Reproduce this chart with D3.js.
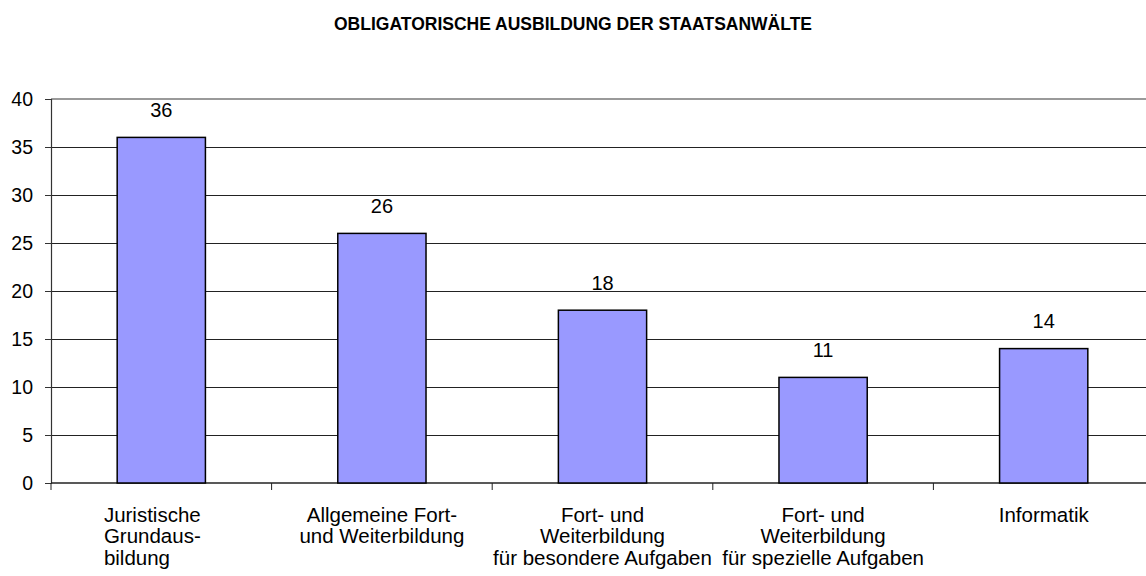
<!DOCTYPE html>
<html>
<head>
<meta charset="utf-8">
<script src="https://cdn.jsdelivr.net/npm/d3@7"></script>
<style>
  html, body { margin: 0; padding: 0; background: #fff; }
  svg { display: block; font-family: "Liberation Sans", Arial, sans-serif; }
</style>
</head>
<body>
<svg id="chart" width="1146" height="576"></svg>
<script>
// Chart data
const title = "OBLIGATORISCHE AUSBILDUNG DER STAATSANWÄLTE";
const categories = [
  "Juristische Grundausbildung",
  "Allgemeine Fort- und Weiterbildung",
  "Fort- und Weiterbildung für besondere Aufgaben",
  "Fort- und Weiterbildung für spezielle Aufgaben",
  "Informatik"
];
const categoryLines = [
  ["Juristische", "Grundaus-", "bildung"],
  ["Allgemeine Fort-", "und Weiterbildung"],
  ["Fort- und", "Weiterbildung", "für besondere Aufgaben"],
  ["Fort- und", "Weiterbildung", "für spezielle Aufgaben"],
  ["Informatik"]
];
// hyphenated label is set flush-left as one block
const categoryAlign = ["start", "middle", "middle", "middle", "middle"];
const values = [36, 26, 18, 11, 14];
const yTicks = [0, 5, 10, 15, 20, 25, 30, 35, 40];

const svg = d3.select("#chart");
const plot = { left: 51, top: 99, right: 1154, bottom: 483 };

const x = d3.scaleBand()
  .domain(categories)
  .range([plot.left, plot.right])
  .paddingInner(0.6)
  .paddingOuter(0.3);

const y = d3.scaleLinear().domain([0, 40]).range([plot.bottom, plot.top]);

// Title
svg.append("text")
  .attr("x", 573).attr("y", 29.5)
  .attr("text-anchor", "middle")
  .attr("font-size", 17.5).attr("font-weight", "bold")
  .text(title);

// Horizontal gridlines
svg.append("g")
  .selectAll("line")
  .data(yTicks.filter(d => d > 0))
  .join("line")
  .attr("x1", plot.left).attr("x2", plot.right)
  .attr("y1", d => y(d)).attr("y2", d => y(d))
  .attr("stroke", d => d === 40 ? "#9a9a9a" : "#222")
  .attr("stroke-width", d => d === 40 ? 1.5 : 1)
  .attr("shape-rendering", "crispEdges");

// Y axis
const yAxis = d3.axisLeft(y).tickValues(yTicks).tickSize(6).tickPadding(12);
const gy = svg.append("g")
  .attr("transform", `translate(${plot.left},0)`)
  .call(yAxis);
gy.select(".domain").attr("stroke", "#333").attr("stroke-width", 1.2);
gy.selectAll(".tick line").attr("stroke", "#333");
gy.selectAll(".tick text")
  .attr("font-size", 19.5).attr("fill", "#000")
  .attr("font-family", "Liberation Sans, Arial, sans-serif");

// X axis with ticks at the category boundaries
const step = x.step();
const boundaries = d3.range(categories.length + 1).map(i => plot.left + i * step);
const gx = svg.append("g");
gx.append("line")
  .attr("x1", plot.left).attr("x2", plot.right)
  .attr("y1", plot.bottom).attr("y2", plot.bottom)
  .attr("stroke", "#222").attr("stroke-width", 1.5);
gx.selectAll("line.tick")
  .data(boundaries)
  .join("line")
  .attr("class", "tick")
  .attr("x1", d => d).attr("x2", d => d)
  .attr("y1", plot.bottom).attr("y2", plot.bottom + 7)
  .attr("stroke", "#222");

// Bars
svg.append("g")
  .selectAll("rect")
  .data(values)
  .join("rect")
  .attr("x", (d, i) => x(categories[i]))
  .attr("width", x.bandwidth())
  .attr("y", d => y(d))
  .attr("height", d => y(0) - y(d))
  .attr("fill", "#9999ff")
  .attr("stroke", "#000")
  .attr("stroke-width", 1.5);

// Value labels
svg.append("g")
  .selectAll("text")
  .data(values)
  .join("text")
  .attr("x", (d, i) => x(categories[i]) + x.bandwidth() / 2)
  .attr("y", d => y(d) - 20.5)
  .attr("text-anchor", "middle")
  .attr("font-size", 20)
  .text(d => d);

// Category labels
const labels = svg.append("g")
  .selectAll("text")
  .data(categoryLines)
  .join("text")
  .attr("text-anchor", (d, i) => categoryAlign[i])
  .attr("font-size", 20.5)
  .attr("transform", (d, i) => `translate(${x(categories[i]) + x.bandwidth() / 2},521.5)`);
labels.selectAll("tspan")
  .data(d => d)
  .join("tspan")
  .attr("x", 0)
  .attr("y", (d, j) => j * 21.5)
  .text(d => d);

// Flush-left blocks: shift so the widest line sits slightly left of the band centre
labels.each(function (d, i) {
  if (categoryAlign[i] !== "start") return;
  const widest = d3.max(d3.select(this).selectAll("tspan").nodes(), n => n.getComputedTextLength());
  d3.select(this).selectAll("tspan").attr("x", -widest / 2 - 9);
});
</script>
</body>
</html>
